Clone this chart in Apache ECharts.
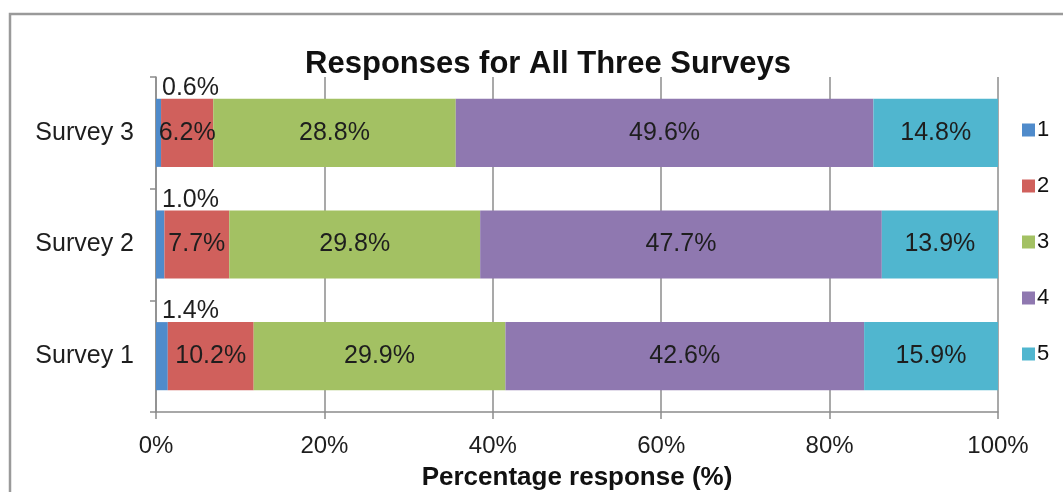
<!DOCTYPE html>
<html>
<head>
<meta charset="utf-8">
<script src="https://cdn.jsdelivr.net/npm/echarts@6/dist/echarts.min.js"></script>
<style>
  html, body { margin: 0; padding: 0; background: #fff; }
  #chart { width: 1063px; height: 492px; }
</style>
</head>
<body>
<div id="chart"></div>
<script>
// categories, bottom to top
const surveys = ["Survey 1", "Survey 2", "Survey 3"];
const responseNames = ["1", "2", "3", "4", "5"];
// percentage per response, in survey order
const resp1 = [1.4, 1.0, 0.6];
const resp2 = [10.2, 7.7, 6.2];
const resp3 = [29.9, 29.8, 28.8];
const resp4 = [42.6, 47.7, 49.6];
const resp5 = [15.9, 13.9, 14.8];
const xTicks = [0, 20, 40, 60, 80, 100];

const colors = ["#4f8bcb", "#d0605c", "#a3c163", "#8f78b0", "#50b6cf"];
const font = "Liberation Sans, Arial, sans-serif";

let chart = echarts.init(document.getElementById("chart"));

function makeSeries(name, data, idx) {
  let label = {
    show: true,
    formatter: (p) => p.value.toFixed(1) + "%",
    color: "#1e1e1e",
    fontSize: 25,
    fontFamily: font,
  };
  // first segment is too thin, label sits above the bar
  if (idx === 0) {
    label.position = [6, -23];
  }
  return {
    name: name,
    type: "bar",
    stack: "total",
    barWidth: "61%",
    data: data,
    itemStyle: { color: colors[idx] },
    label: label,
  };
}

chart.setOption({
  animation: false,
  textStyle: { fontFamily: font },
  title: {
    text: "Responses for All Three Surveys",
    left: 543,
    textAlign: "center",
    top: 44,
    textStyle: { fontSize: 31, fontWeight: "bold", color: "#111", fontFamily: font },
  },
  graphic: [
    {
      type: "rect",
      shape: { x: 10, y: 14, width: 1200, height: 600 },
      style: { fill: "none", stroke: "#9a9a9a", lineWidth: 2.5 },
      silent: true,
    },
  ],
  legend: {
    orient: "vertical",
    left: 1017,
    top: 114,
    itemWidth: 13,
    itemHeight: 13,
    itemGap: 34,
    icon: "rect",
    data: responseNames,
    textStyle: { fontSize: 22, color: "#111", fontFamily: font, padding: [0, 0, 0, -3] },
  },
  grid: {
    left: 156,
    right: 65,
    top: 77,
    bottom: 80,
    containLabel: false,
    outerBoundsMode: "none",
  },
  xAxis: {
    type: "value",
    min: xTicks[0],
    max: xTicks[xTicks.length - 1],
    interval: 20,
    name: "Percentage response (%)",
    nameLocation: "middle",
    nameGap: 53,
    nameTextStyle: { fontSize: 26, fontWeight: "bold", color: "#111", fontFamily: font },
    axisLine: { show: true, lineStyle: { color: "#8c8c8c", width: 1.5 } },
    axisTick: { show: true, length: 7, lineStyle: { color: "#8c8c8c", width: 1.5 } },
    axisLabel: {
      formatter: (v) => v + "%",
      fontSize: 24,
      color: "#1e1e1e",
      margin: 22,
      fontFamily: font,
    },
    splitLine: { show: true, lineStyle: { color: "#8c8c8c", width: 1.5 } },
  },
  yAxis: {
    type: "category",
    data: surveys,
    axisLine: { show: true, lineStyle: { color: "#8c8c8c", width: 1.5 } },
    axisTick: { show: true, length: 6, lineStyle: { color: "#8c8c8c", width: 1.5 } },
    axisLabel: { fontSize: 25, color: "#1e1e1e", margin: 22, fontFamily: font },
  },
  series: [
    makeSeries(responseNames[0], resp1, 0),
    makeSeries(responseNames[1], resp2, 1),
    makeSeries(responseNames[2], resp3, 2),
    makeSeries(responseNames[3], resp4, 3),
    makeSeries(responseNames[4], resp5, 4),
  ],
});
</script>
</body>
</html>
